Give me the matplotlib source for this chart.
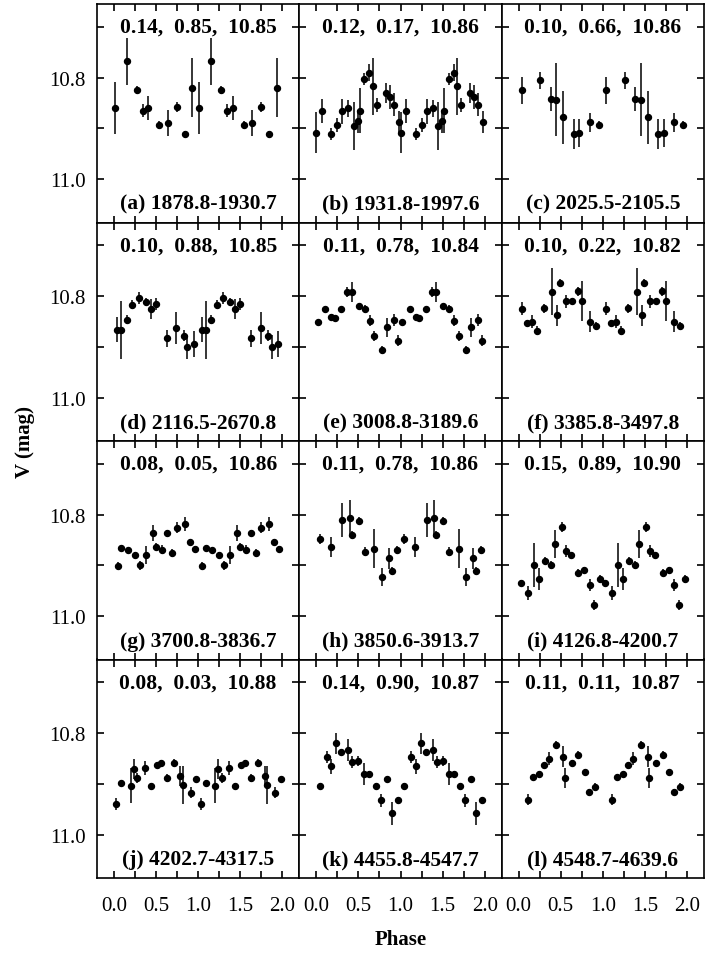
import numpy as np
import matplotlib
matplotlib.use("Agg")
import matplotlib.pyplot as plt
from matplotlib.ticker import MultipleLocator, FormatStrFormatter

plt.rcParams['font.family'] = ['Liberation Serif', 'DejaVu Serif']

# one cycle per panel, drawn twice (phase and phase + 1)
phase_a = [0.01, 0.15, 0.27, 0.34, 0.41, 0.54, 0.64, 0.75, 0.84, 0.93]
mag_a = [10.860, 10.768, 10.824, 10.865, 10.860, 10.893, 10.889, 10.858, 10.911, 10.820]
err_a = [0.051, 0.046, 0.008, 0.013, 0.023, 0.008, 0.026, 0.010, 0.007, 0.058]

phase_b = [0.00, 0.07, 0.18, 0.25, 0.31, 0.38, 0.45, 0.49, 0.52, 0.57, 0.63, 0.67, 0.72, 0.83, 0.87, 0.92, 0.98]
mag_b = [10.908, 10.865, 10.911, 10.893, 10.866, 10.860, 10.895, 10.886, 10.865, 10.803, 10.790, 10.817,
         10.854, 10.830, 10.838, 10.853, 10.887]
err_b = [0.041, 0.024, 0.011, 0.013, 0.025, 0.017, 0.047, 0.022, 0.044, 0.012, 0.017, 0.056,
         0.014, 0.019, 0.023, 0.022, 0.021]

phase_c = [0.04, 0.26, 0.38, 0.45, 0.53, 0.66, 0.72, 0.85, 0.95]
mag_c = [10.825, 10.805, 10.842, 10.843, 10.878, 10.911, 10.909, 10.888, 10.893]
err_c = [0.027, 0.017, 0.023, 0.071, 0.052, 0.030, 0.028, 0.019, 0.007]

phase_d = [0.04, 0.09, 0.15, 0.22, 0.30, 0.38, 0.44, 0.50, 0.63, 0.74, 0.83, 0.87, 0.95]
mag_d = [10.866, 10.866, 10.846, 10.817, 10.804, 10.812, 10.825, 10.815, 10.883, 10.863, 10.878, 10.900, 10.894]
err_d = [0.025, 0.057, 0.008, 0.009, 0.012, 0.008, 0.019, 0.012, 0.017, 0.032, 0.011, 0.023, 0.025]

phase_e = [0.02, 0.11, 0.18, 0.22, 0.30, 0.37, 0.42, 0.51, 0.58, 0.64, 0.69, 0.78, 0.84, 0.92, 0.97]
mag_e = [10.850, 10.826, 10.840, 10.843, 10.826, 10.792, 10.792, 10.820, 10.826, 10.848, 10.878,
         10.906, 10.861, 10.847, 10.888]
err_e = [0.004, 0.004, 0.004, 0.004, 0.004, 0.010, 0.019, 0.005, 0.008, 0.010, 0.010,
         0.008, 0.019, 0.011, 0.011]

phase_f = [0.04, 0.10, 0.16, 0.22, 0.30, 0.40, 0.46, 0.49, 0.56, 0.63, 0.70, 0.75, 0.85, 0.92]
mag_f = [10.825, 10.853, 10.850, 10.868, 10.824, 10.791, 10.838, 10.774, 10.810, 10.810, 10.790,
         10.810, 10.850, 10.858]
err_f = [0.013, 0.006, 0.012, 0.009, 0.009, 0.047, 0.020, 0.008, 0.013, 0.005, 0.009,
         0.039, 0.021, 0.008]

phase_g = [0.05, 0.09, 0.17, 0.25, 0.31, 0.38, 0.46, 0.50, 0.57, 0.63, 0.69, 0.75, 0.84, 0.90, 0.96]
mag_g = [10.901, 10.866, 10.869, 10.880, 10.900, 10.880, 10.836, 10.863, 10.869, 10.836, 10.876,
         10.826, 10.818, 10.853, 10.867]
err_g = [0.008, 0.004, 0.004, 0.006, 0.008, 0.018, 0.015, 0.007, 0.009, 0.006, 0.008,
         0.011, 0.014, 0.006, 0.006]

phase_h = [0.04, 0.17, 0.31, 0.40, 0.42, 0.51, 0.58, 0.69, 0.78, 0.86, 0.90, 0.96]
mag_h = [10.848, 10.863, 10.810, 10.807, 10.840, 10.812, 10.873, 10.867, 10.922, 10.886, 10.911, 10.870]
err_h = [0.010, 0.020, 0.033, 0.036, 0.008, 0.007, 0.009, 0.038, 0.018, 0.021, 0.008, 0.008]

phase_i = [0.03, 0.11, 0.18, 0.24, 0.31, 0.38, 0.43, 0.51, 0.56, 0.62, 0.71, 0.78, 0.85, 0.90, 0.97]
mag_i = [10.935, 10.954, 10.899, 10.926, 10.891, 10.899, 10.858, 10.824, 10.871, 10.880, 10.914,
         10.908, 10.939, 10.977, 10.927]
err_i = [0.006, 0.014, 0.043, 0.022, 0.007, 0.008, 0.028, 0.010, 0.012, 0.005, 0.007,
         0.005, 0.012, 0.010, 0.008]

phase_j = [0.03, 0.09, 0.20, 0.24, 0.28, 0.37, 0.44, 0.51, 0.56, 0.63, 0.71, 0.79, 0.82, 0.91, 0.98]
mag_j = [10.939, 10.899, 10.903, 10.871, 10.888, 10.868, 10.904, 10.863, 10.858, 10.889, 10.859,
         10.884, 10.902, 10.917, 10.891]
err_j = [0.012, 0.005, 0.035, 0.020, 0.010, 0.014, 0.005, 0.005, 0.005, 0.008, 0.008,
         0.019, 0.038, 0.011, 0.005]

phase_k = [0.04, 0.13, 0.18, 0.24, 0.30, 0.38, 0.43, 0.50, 0.57, 0.63, 0.71, 0.77, 0.84, 0.90, 0.97]
mag_k = [10.904, 10.847, 10.865, 10.820, 10.838, 10.833, 10.857, 10.855, 10.880, 10.880, 10.904,
         10.932, 10.891, 10.958, 10.932]
err_k = [0.006, 0.012, 0.015, 0.021, 0.005, 0.022, 0.012, 0.010, 0.022, 0.005, 0.006,
         0.013, 0.005, 0.022, 0.007]

phase_l = [0.11, 0.17, 0.24, 0.30, 0.36, 0.45, 0.53, 0.55, 0.63, 0.71, 0.79, 0.84, 0.91]
mag_l = [10.931, 10.886, 10.881, 10.863, 10.850, 10.824, 10.846, 10.888, 10.858, 10.842, 10.877, 10.916, 10.905]
err_l = [0.011, 0.005, 0.005, 0.005, 0.012, 0.008, 0.021, 0.020, 0.006, 0.006, 0.006, 0.006, 0.006]

fit_labels = ["0.14,  0.85,  10.85", "0.12,  0.17,  10.86", "0.10,  0.66,  10.86",
              "0.10,  0.88,  10.85", "0.11,  0.78,  10.84", "0.10,  0.22,  10.82",
              "0.08,  0.05,  10.86", "0.11,  0.78,  10.86", "0.15,  0.89,  10.90",
              "0.08,  0.03,  10.88", "0.14,  0.90,  10.87", "0.11,  0.11,  10.87"]
range_labels = ["(a) 1878.8-1930.7", "(b) 1931.8-1997.6", "(c) 2025.5-2105.5",
                "(d) 2116.5-2670.8", "(e) 3008.8-3189.6", "(f) 3385.8-3497.8",
                "(g) 3700.8-3836.7", "(h) 3850.6-3913.7", "(i) 4126.8-4200.7",
                "(j) 4202.7-4317.5", "(k) 4455.8-4547.7", "(l) 4548.7-4639.6"]

phases = [phase_a, phase_b, phase_c, phase_d, phase_e, phase_f,
          phase_g, phase_h, phase_i, phase_j, phase_k, phase_l]
mags = [mag_a, mag_b, mag_c, mag_d, mag_e, mag_f, mag_g, mag_h, mag_i, mag_j, mag_k, mag_l]
errs = [err_a, err_b, err_c, err_d, err_e, err_f, err_g, err_h, err_i, err_j, err_k, err_l]

fig, axes = plt.subplots(4, 3, figsize=(7.05, 9.54), dpi=100, sharex=True, sharey=True)
fig.subplots_adjust(left=97/705, right=704/705, top=1-5/954, bottom=1-879/954,
                    wspace=0, hspace=0)

for n, ax in enumerate(axes.flat):
    ph = np.array(phases[n])
    x = np.concatenate([ph, ph + 1])
    y = np.tile(mags[n], 2)
    e = np.tile(errs[n], 2)
    ax.errorbar(x, y, yerr=e, fmt='o', color='black', ms=4.3, elinewidth=1.1, capsize=0)

    ax.text(0.5, 0.895, fit_labels[n], transform=ax.transAxes, ha='center', va='center',
            fontsize=15.5, fontweight='bold')
    ax.text(0.5, 0.085, range_labels[n], transform=ax.transAxes, ha='center', va='center',
            fontsize=15.5, fontweight='bold')

    ax.set_xlim(-0.2, 2.2)
    ax.set_ylim(11.085, 10.655)
    ax.xaxis.set_major_locator(MultipleLocator(0.5))
    ax.xaxis.set_minor_locator(MultipleLocator(0.25))
    ax.yaxis.set_major_locator(MultipleLocator(0.2))
    ax.yaxis.set_minor_locator(MultipleLocator(0.1))
    ax.xaxis.set_major_formatter(FormatStrFormatter('%.1f'))
    ax.yaxis.set_major_formatter(FormatStrFormatter('%.1f'))
    ax.tick_params(which='both', direction='in', top=True, right=True,
                   length=5, width=1.2, labelsize=15)
    ax.tick_params(axis='x', pad=13)
    ax.tick_params(axis='y', pad=8)
    for s in ax.spines.values():
        s.set_linewidth(1.2)

fig.text(0.035, (1 - 442/954), 'V (mag)', rotation=90, ha='center', va='center',
         fontsize=15, fontweight='bold')
fig.text((97 + 704) / 2 / 705, 1 - 940/954, 'Phase', ha='center', va='center',
         fontsize=15, fontweight='bold')

fig.savefig('out.png', dpi=100)
